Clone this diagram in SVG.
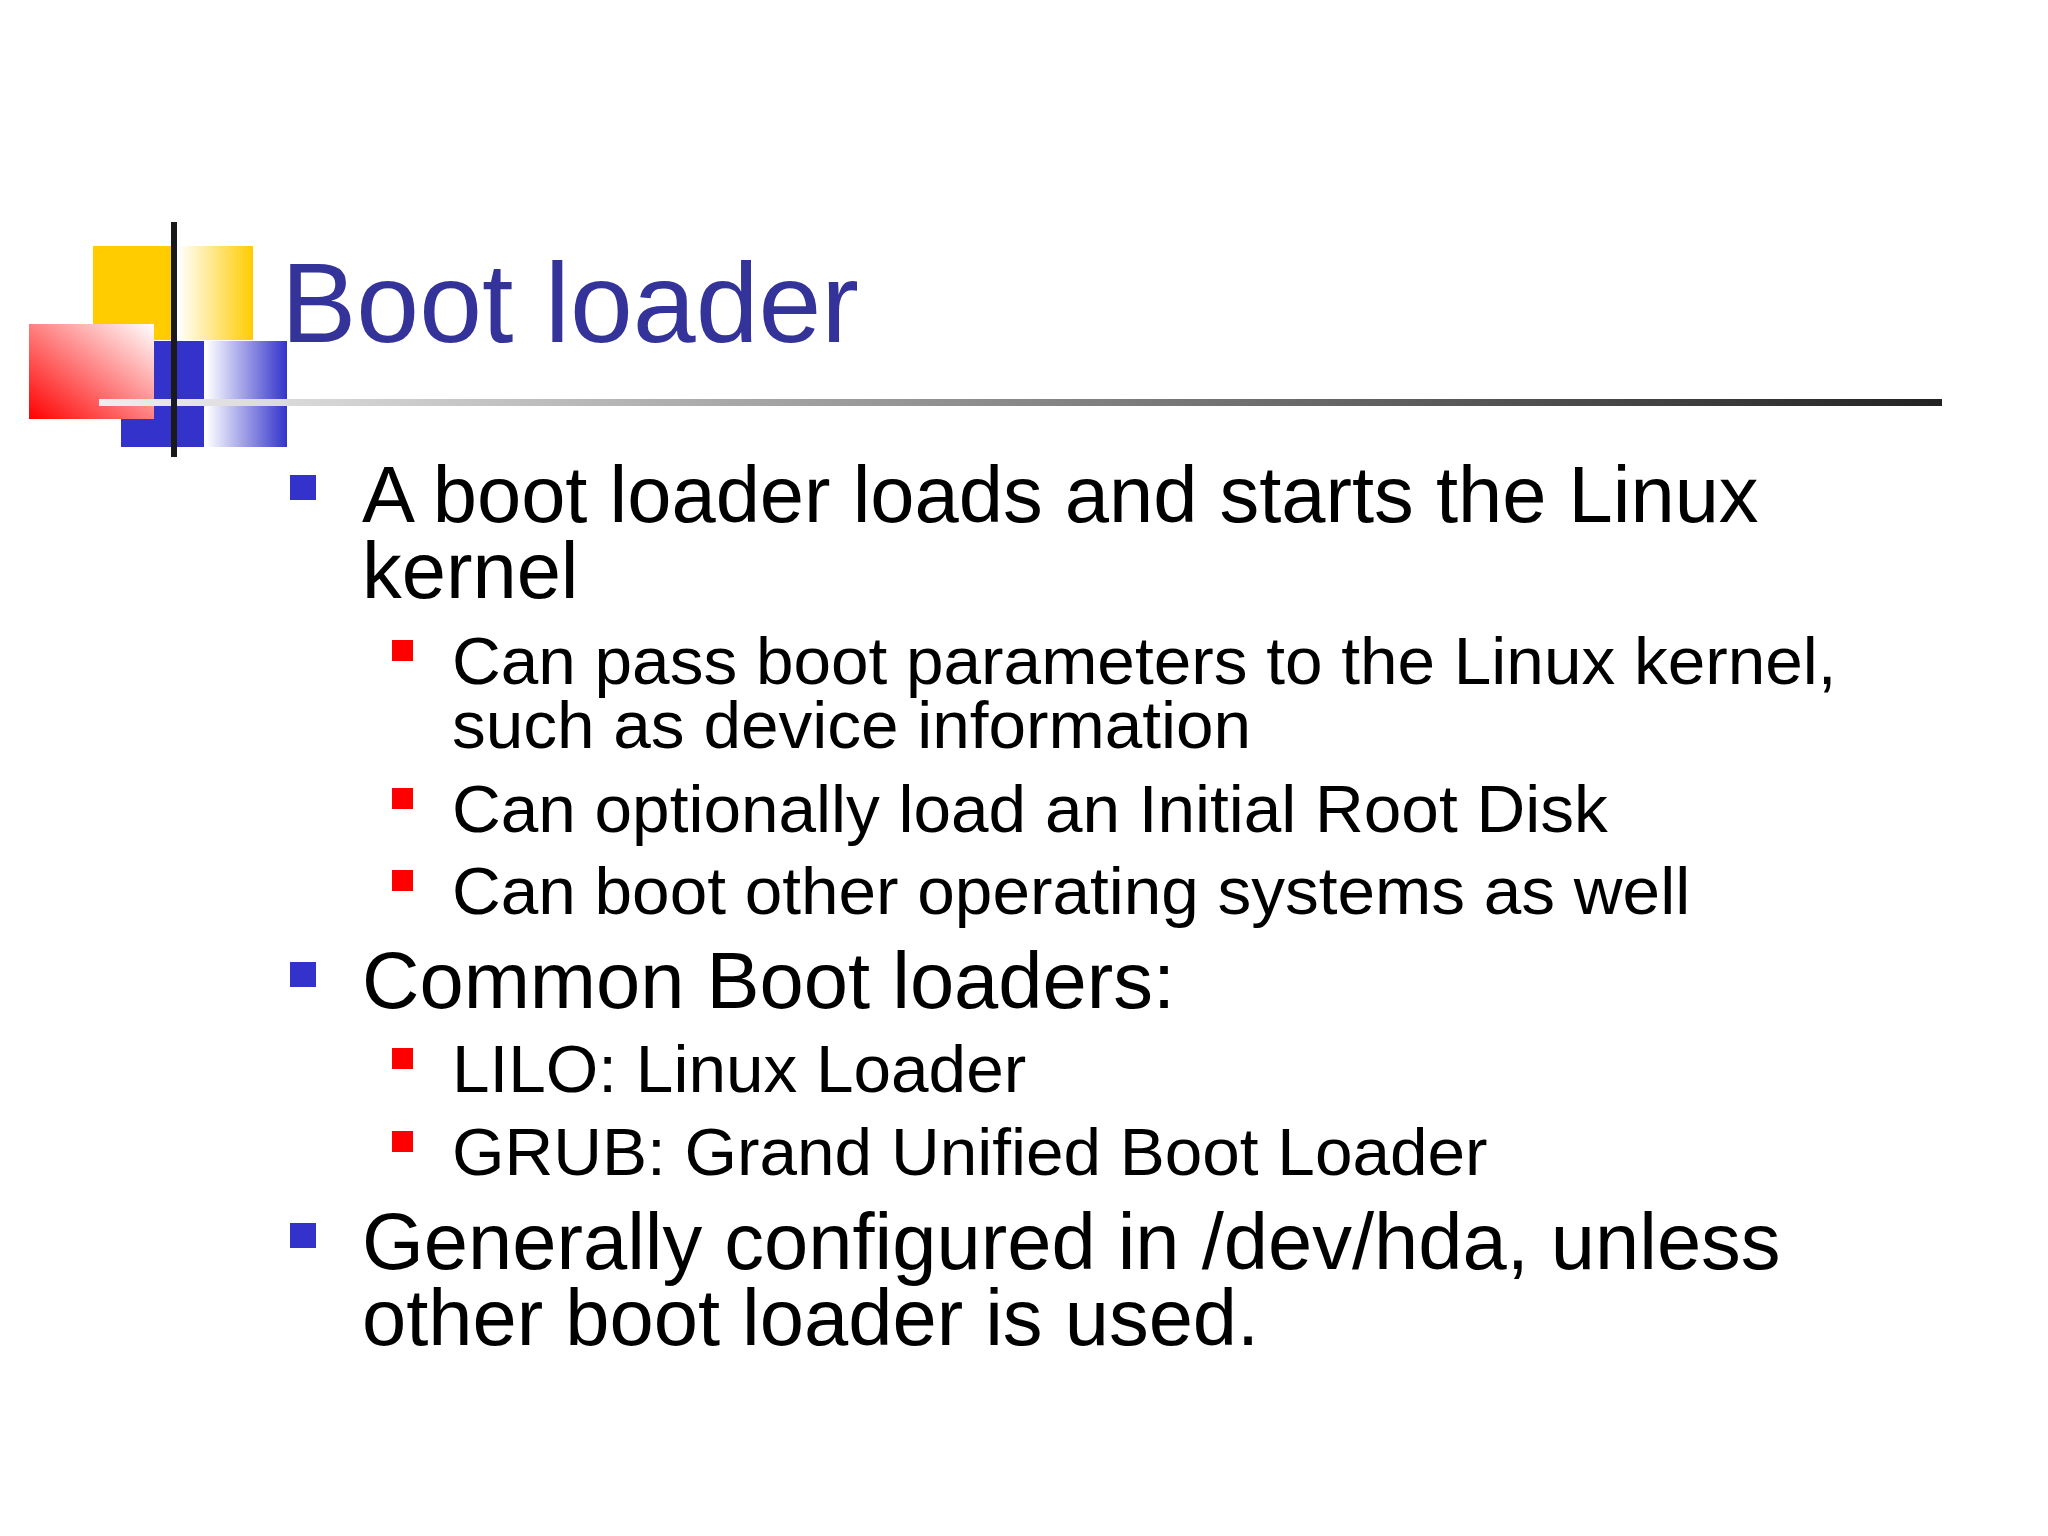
<svg xmlns="http://www.w3.org/2000/svg" width="2048" height="1536" viewBox="0 0 2048 1536">
<defs>
<linearGradient id="gy" x1="0" x2="1"><stop offset="0" stop-color="#fff"/><stop offset="1" stop-color="#ffcc00"/></linearGradient>
<linearGradient id="gb" x1="0" x2="1"><stop offset="0" stop-color="#fff"/><stop offset="1" stop-color="#3333cc"/></linearGradient>
<linearGradient id="gr" x1="0" y1="1" x2="1" y2="0"><stop offset="0" stop-color="#ff0000"/><stop offset="1" stop-color="#fff"/></linearGradient>
<linearGradient id="gl" x1="0" x2="1"><stop offset="0" stop-color="#eeeeee"/><stop offset="1" stop-color="#222"/></linearGradient>
<style>
.t{font-family:"Liberation Sans",Arial,sans-serif;fill:#000}
.l1{font-size:79.5px}.l2{font-size:67.5px}
.b1{fill:#3333cc}.b2{fill:#ff0000}
</style>
</defs>
<rect width="2048" height="1536" fill="#fff"/>
<g id="logo">
<rect x="93" y="246" width="79" height="94" fill="#ffcc00"/>
<rect x="178" y="246" width="75" height="94" fill="url(#gy)"/>
<rect x="121" y="341" width="83" height="106" fill="#3333cc"/>
<rect x="206" y="341" width="81" height="106" fill="url(#gb)"/>
<rect x="29" y="324" width="125" height="95" fill="url(#gr)"/>
<rect x="99" y="399" width="1843" height="7" fill="url(#gl)"/>
<rect x="171" y="222" width="6" height="235" fill="#1a1a1a"/>
</g>
<g id="title"><text x="281" y="342" class="t" style="font-size:113px;fill:#333399">Boot loader</text></g>
<g id="bullets">
<rect class="b1" x="290" y="475" width="26" height="25"/>
<text class="t l1" x="362" y="522">A boot loader loads and starts the Linux</text>
<text class="t l1" x="362" y="598">kernel</text>
<rect class="b2" x="392" y="640" width="21" height="21"/>
<text class="t l2" x="452" y="684">Can pass boot parameters to the Linux kernel,</text>
<text class="t l2" x="452" y="748">such as device information</text>
<rect class="b2" x="392" y="788" width="21" height="21"/>
<text class="t l2" x="452" y="832">Can optionally load an Initial Root Disk</text>
<rect class="b2" x="392" y="870" width="21" height="21"/>
<text class="t l2" x="452" y="914">Can boot other operating systems as well</text>
<rect class="b1" x="290" y="962" width="26" height="25"/>
<text class="t l1" x="362" y="1008">Common Boot loaders:</text>
<rect class="b2" x="392" y="1048" width="21" height="21"/>
<text class="t l2" x="452" y="1092">LILO: Linux Loader</text>
<rect class="b2" x="392" y="1131" width="21" height="21"/>
<text class="t l2" x="452" y="1175">GRUB: Grand Unified Boot Loader</text>
<rect class="b1" x="290" y="1223" width="26" height="25"/>
<text class="t l1" x="362" y="1269">Generally configured in /dev/hda, unless</text>
<text class="t l1" x="362" y="1345">other boot loader is used.</text>
</g>
</svg>
